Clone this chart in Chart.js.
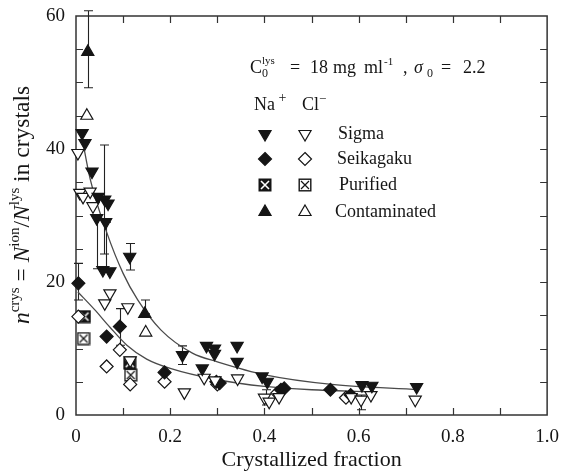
<!DOCTYPE html>
<html><head><meta charset="utf-8">
<script src="https://cdn.jsdelivr.net/npm/chart.js@4.4.0/dist/chart.umd.min.js"></script>
<style>html,body{margin:0;padding:0;background:#fff;overflow:hidden}canvas{display:block}</style>
</head><body>
<canvas id="c" width="562" height="473"></canvas>
<script>
// ---- tick labels ----
const xTicks = [0, 0.2, 0.4, 0.6, 0.8, 1.0];
const xTickLabels = ['0', '0.2', '0.4', '0.6', '0.8', '1.0'];
const yTicks = [0, 20, 40, 60];
const yTickLabels = ['0', '20', '40', '60'];
const xMinorTicks = [0.1, 0.2, 0.3, 0.4, 0.5, 0.6, 0.7, 0.8, 0.9];
const yMinorTicks = [5, 10, 15, 20, 25, 30, 35, 40, 45, 50, 55];

// ---- data: Sigma ----
const sigmaNaX = [0.013,0.019,0.034,0.047,0.061,0.068,0.044,0.063,0.057,0.072,0.114,0.226,0.268,0.277,0.294,0.294,0.342,0.342,0.395,0.406,0.607,0.628,0.723];
const sigmaNaY = [42.4,40.9,36.6,32.8,32.4,31.8,29.6,29.0,21.8,21.6,23.8,9.0,7.0,10.4,10.0,9.2,10.4,8.0,5.8,5.0,4.5,4.4,4.2];
const sigmaClX = [0.004,0.008,0.015,0.030,0.036,0.061,0.072,0.110,0.115,0.230,0.272,0.295,0.343,0.400,0.410,0.431,0.584,0.605,0.626,0.720];
const sigmaClY = [39.4,33.4,32.8,33.6,31.4,16.8,18.3,16.2,8.2,3.4,5.6,5.2,5.5,2.6,2.0,2.7,2.7,2.3,3.0,2.3];
// ---- Seikagaku ----
const seikaNaX = [0.005,0.065,0.093,0.188,0.298,0.305,0.435,0.442,0.540,0.583];
const seikaNaY = [19.8,11.8,13.3,6.4,5.0,4.8,3.8,4.0,3.8,3.0];
const seikaClX = [0.005,0.065,0.093,0.115,0.188,0.300,0.427,0.573];
const seikaClY = [14.8,7.3,9.8,4.6,5.0,4.6,3.3,2.6];
// ---- Purified ----
const puriNaX = [0.018,0.114];
const puriNaY = [14.8,7.8];
const puriClX = [0.016,0.116];
const puriClY = [11.5,6.0];
// ---- Contaminated ----
const contNaX = [0.025,0.146];
const contNaY = [54.6,15.2];
const contClX = [0.023,0.148];
const contClY = [45.0,12.4];
// ---- error bars ----
const errX  = [0.025,0.060,0.045,0.063,0.114,0.005,0.093,0.146,0.226,0.404,0.605];
const errLo = [49.2,24.2,22.0,22.0,21.8,17.3,10.5,15.2,7.6,1.5,0.8];
const errHi = [60.8,40.6,30.0,29.0,25.8,22.8,16.0,17.3,10.4,3.8,3.0];
// ---- fitted curves ----
const upperX = [0.012,0.03,0.065,0.1,0.131,0.18,0.247,0.3,0.404,0.543,0.727];
const upperY = [42,35.5,27.5,21.3,17.3,12.8,9.3,8.0,6.0,4.6,3.8];
const lowerX = [0.004,0.04,0.072,0.108,0.15,0.2,0.3,0.4,0.5,0.62];
const lowerY = [18.5,15.8,13.2,10.5,8.4,7.0,5.3,4.3,3.8,3.5];

const FONT = '"Liberation Serif","DejaVu Serif",serif';
const INK = '#151515';
const AREA = {left: 76, top: 16, right: 549, bottom: 415};

function pts(xs, ys) { return xs.map((x, i) => ({x: x, y: ys[i]})); }

function makeBoxX(filled) {
  const s = 14, c = document.createElement('canvas');
  c.width = s; c.height = s;
  const g = c.getContext('2d');
  g.fillStyle = filled ? INK : '#fff';
  g.fillRect(1, 1, s - 2, s - 2);
  g.strokeStyle = INK; g.lineWidth = 1.4;
  g.strokeRect(1.2, 1.2, s - 2.4, s - 2.4);
  g.strokeStyle = filled ? '#fff' : INK; g.lineWidth = filled ? 1.6 : 1.2;
  g.beginPath(); g.moveTo(3, 3); g.lineTo(s - 3, s - 3); g.moveTo(s - 3, 3); g.lineTo(3, s - 3); g.stroke();
  return c;
}
const boxFilled = makeBoxX(true), boxOpen = makeBoxX(false);

function markerDS(label, xs, ys, style, filled, rot, r) {
  return {
    label: label, data: pts(xs, ys), pointStyle: style, rotation: rot || 0,
    pointRadius: r || 7, pointHoverRadius: r || 7,
    backgroundColor: filled ? INK : '#fff', borderColor: INK, borderWidth: 1.2,
    showLine: false, clip: false, order: 1
  };
}
function curveDS(label, xs, ys) {
  return {
    label: label, data: pts(xs, ys), showLine: true, pointRadius: 0, pointHoverRadius: 0,
    borderColor: '#4a4a4a', borderWidth: 1.3, backgroundColor: 'transparent',
    cubicInterpolationMode: 'monotone', fill: false, clip: false, order: 10
  };
}

function setFont(ctx, s) { ctx.font = (s.it ? 'italic ' : '') + s.sz + 'px ' + FONT; }
function richWidth(ctx, segs) {
  let w = 0;
  segs.forEach(s => { setFont(ctx, s); w += ctx.measureText(s.t).width; });
  return w;
}
function drawRich(ctx, segs, x, y) {
  segs.forEach(s => {
    setFont(ctx, s);
    ctx.fillText(s.t, x, y + (s.dy || 0));
    x += ctx.measureText(s.t).width;
  });
}
// positioned text pieces: [x offset, text, size, dy, italic]
function drawPlaced(ctx, pieces, x0, y0) {
  pieces.forEach(p => {
    setFont(ctx, {sz: p[2], it: p[4]});
    ctx.fillText(p[1], x0 + p[0], y0 + p[3]);
  });
}

function drawMarker(ctx, style, filled, rot, r, x, y) {
  if (style === 'img') {
    const im = filled ? boxFilled : boxOpen;
    ctx.drawImage(im, x - im.width / 2, y - im.height / 2);
    return;
  }
  ctx.save();
  ctx.fillStyle = filled ? INK : '#fff'; ctx.strokeStyle = INK; ctx.lineWidth = 1.2;
  ctx.beginPath();
  if (style === 'triangle') {
    let rad = rot * Math.PI / 180;
    for (let i = 0; i < 3; i++) {
      const px = x + Math.sin(rad) * r, py = y - Math.cos(rad) * r;
      if (i === 0) ctx.moveTo(px, py); else ctx.lineTo(px, py);
      rad += 2 * Math.PI / 3;
    }
  } else {
    ctx.moveTo(x, y - r); ctx.lineTo(x + r, y); ctx.lineTo(x, y + r); ctx.lineTo(x - r, y);
  }
  ctx.closePath(); ctx.fill(); ctx.stroke();
  ctx.restore();
}

const framePlugin = {
  id: 'frame',
  beforeDatasetsDraw(chart) {
    const {ctx, chartArea: a, scales: {x, y}} = chart;
    ctx.save();
    ctx.strokeStyle = '#333'; ctx.lineWidth = 1.5;
    ctx.strokeRect(a.left, a.top, a.right - a.left, a.bottom - a.top);
    ctx.lineWidth = 1.2;
    ctx.beginPath();
    const tl = 7;
    xMinorTicks.forEach(v => {
      const px = Math.round(x.getPixelForValue(v)) + 0.5;
      ctx.moveTo(px, a.bottom); ctx.lineTo(px, a.bottom - tl);
      ctx.moveTo(px, a.top); ctx.lineTo(px, a.top + tl);
    });
    yMinorTicks.forEach(v => {
      const py = Math.round(y.getPixelForValue(v)) + 0.5;
      ctx.moveTo(a.left, py); ctx.lineTo(a.left + tl, py);
      ctx.moveTo(a.right, py); ctx.lineTo(a.right - tl, py);
    });
    ctx.stroke();
    // error bars
    ctx.strokeStyle = '#222'; ctx.lineWidth = 1.1;
    ctx.beginPath();
    errX.forEach((v, i) => {
      const px = Math.round(x.getPixelForValue(v)) + 0.5;
      const p1 = y.getPixelForValue(errLo[i]), p2 = y.getPixelForValue(errHi[i]);
      ctx.moveTo(px, p1); ctx.lineTo(px, p2);
      ctx.moveTo(px - 4.5, p1); ctx.lineTo(px + 4.5, p1);
      ctx.moveTo(px - 4.5, p2); ctx.lineTo(px + 4.5, p2);
    });
    ctx.stroke();
    ctx.restore();
  },
  afterDraw(chart) {
    const {ctx, chartArea: a} = chart;
    ctx.save();
    ctx.fillStyle = INK;
    ctx.textBaseline = 'alphabetic';
    // x title
    ctx.font = '22px ' + FONT;
    ctx.textAlign = 'center';
    ctx.fillText('Crystallized fraction', (a.left + a.right) / 2, 466);
    ctx.textAlign = 'left';
    // y title (rotated)
    const yt = [
      {t: 'n', it: true, sz: 23.5},
      {t: 'crys', sz: 15, dy: -10},
      {t: ' = ', sz: 23.5},
      {t: 'N', it: true, sz: 23.5},
      {t: 'ion', sz: 15, dy: -10},
      {t: '/', sz: 23.5},
      {t: 'N', it: true, sz: 23.5},
      {t: 'lys', sz: 15, dy: -10},
      {t: ' in crystals', sz: 23.5}
    ];
    const w = richWidth(ctx, yt);
    ctx.save();
    ctx.translate(29, 205);
    ctx.rotate(-Math.PI / 2);
    drawRich(ctx, yt, -w / 2, 0);
    ctx.restore();
    // annotation (pieces placed as in the figure)
    drawPlaced(ctx, [
      [0, 'C', 18, 0], [12, '0', 12, 4], [12, 'lys', 11, -9],
      [40, '=', 18, 0], [60, '18', 18, 0], [83, 'mg', 18, 0], [114, 'ml', 18, 0],
      [134, '-1', 11, -8], [153, ',', 18, 0], [164, 'σ', 18, 0, true], [177, '0', 12, 4],
      [191, '=', 18, 0], [213, '2.2', 18, 0]
    ], 250, 73);
    drawRich(ctx, [{t: 'Na', sz: 18}, {t: ' +', sz: 14, dy: -8}], 254, 110);
    drawRich(ctx, [{t: 'Cl', sz: 18}, {t: '−', sz: 13, dy: -7}], 302, 110);
    // legend
    const rows = [
      {name: 'Sigma', y: 134, style: 'triangle', rot: 180, r: 7, tx: 338},
      {name: 'Seikagaku', y: 159, style: 'diamond', rot: 0, r: 6.5, tx: 337},
      {name: 'Purified', y: 185, style: 'img', rot: 0, r: 7, tx: 339},
      {name: 'Contaminated', y: 212, style: 'triangle', rot: 0, r: 7, tx: 335}
    ];
    rows.forEach(rw => {
      drawMarker(ctx, rw.style, true, rw.rot, rw.r, 265, rw.y);
      drawMarker(ctx, rw.style, false, rw.rot, rw.r, 305, rw.y);
      ctx.fillStyle = INK;
      ctx.font = '18px ' + FONT;
      ctx.textBaseline = 'middle';
      ctx.fillText(rw.name, rw.tx, rw.y);
      ctx.textBaseline = 'alphabetic';
    });
    ctx.restore();
  }
};

const chart = new Chart(document.getElementById('c'), {
  type: 'scatter',
  data: {
    datasets: [
      markerDS('Sigma Na+', sigmaNaX, sigmaNaY, 'triangle', true, 180, 7),
      markerDS('Sigma Cl-', sigmaClX, sigmaClY, 'triangle', false, 180, 7),
      markerDS('Seikagaku Na+', seikaNaX, seikaNaY, 'rectRot', true, 0, 6.5),
      markerDS('Seikagaku Cl-', seikaClX, seikaClY, 'rectRot', false, 0, 6.5),
      markerDS('Purified Na+', puriNaX, puriNaY, boxFilled, true, 0, 7),
      markerDS('Purified Cl-', puriClX, puriClY, boxOpen, false, 0, 7),
      markerDS('Contaminated Na+', contNaX, contNaY, 'triangle', true, 0, 7),
      markerDS('Contaminated Cl-', contClX, contClY, 'triangle', false, 0, 7),
      curveDS('Na fit', upperX, upperY),
      curveDS('Cl fit', lowerX, lowerY)
    ]
  },
  options: {
    responsive: false, animation: false, devicePixelRatio: 1,
    layout: {padding: {top: 16, right: 13, left: 0, bottom: 0}},
    plugins: {legend: {display: false}, tooltip: {enabled: false}},
    scales: {
      x: {
        type: 'linear', min: 0, max: 1.0, position: 'bottom',
        grid: {display: false}, border: {display: false},
        afterBuildTicks: s => { s.ticks = xTicks.map(v => ({value: v})); },
        afterFit: s => { s.height = 58; },
        ticks: {
          padding: 3, color: INK, font: {family: FONT, size: 19},
          callback: (v) => { const i = xTicks.findIndex(t => Math.abs(t - v) < 1e-9); return i >= 0 ? xTickLabels[i] : ''; }
        }
      },
      y: {
        type: 'linear', min: 0, max: 60, position: 'left',
        grid: {display: false}, border: {display: false},
        afterBuildTicks: s => { s.ticks = yTicks.map(v => ({value: v})); },
        afterFit: s => { s.width = 76; },
        ticks: {
          padding: 3, color: INK, font: {family: FONT, size: 19},
          callback: (v) => { const i = yTicks.indexOf(v); return i >= 0 ? yTickLabels[i] : ''; }
        }
      }
    }
  },
  plugins: [framePlugin]
});

// nudge layout padding so the plot frame lands where the figure has it
for (let k = 0; k < 3; k++) {
  const a = chart.chartArea, p = chart.options.layout.padding;
  p.right = Math.max(0, p.right + (a.right - AREA.right));
  p.top = Math.max(0, p.top + (AREA.top - a.top));
  p.bottom = Math.max(0, p.bottom + (a.bottom - AREA.bottom));
  p.left = Math.max(0, p.left + (AREA.left - a.left));
  chart.update();
}
</script>
</body></html>
